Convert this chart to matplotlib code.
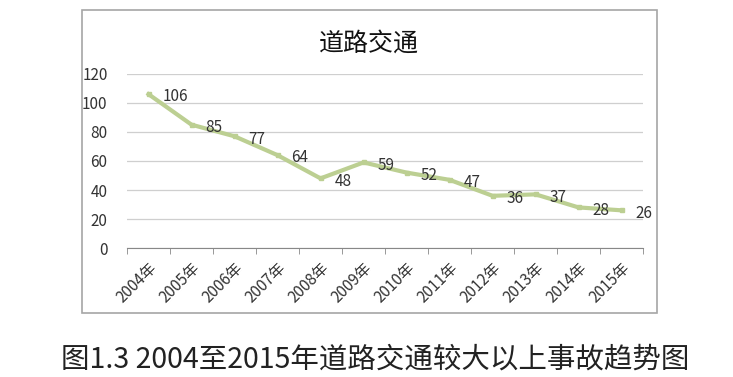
import matplotlib.pyplot as plt
from matplotlib.patches import Rectangle

plt.rcParams['font.family'] = ['Noto Sans CJK SC', 'DejaVu Sans']

# dati
anni = ['2004年', '2005年', '2006年', '2007年', '2008年', '2009年',
        '2010年', '2011年', '2012年', '2013年', '2014年', '2015年']
incidenti = [106, 85, 77, 64, 48, 59, 52, 47, 36, 37, 28, 26]
y_ticks = [0, 20, 40, 60, 80, 100, 120]

titolo = '道路交通'
didascalia = '图1.3 2004至2015年道路交通较大以上事故趋势图'

fig = plt.figure(figsize=(7.33, 3.77), dpi=100)

# cornice del grafico
fig.patches.append(Rectangle((0.112, 0.170), 0.784, 0.804, transform=fig.transFigure,
                             fill=False, edgecolor='#a6a6a6', linewidth=1.2))

ax = fig.add_axes([0.1733, 0.342, 0.704, 0.462])
x = list(range(len(anni)))
ax.plot(x, incidenti, color='#bccf92', linewidth=3, marker='s', markersize=3,
        solid_joinstyle='round')

for xi, v in zip(x, incidenti):
    ax.annotate(str(v), (xi, v), xytext=(10, -2), textcoords='offset points',
                ha='left', va='center', fontsize=11, color='#333333')

ax.set_xlim(-0.5, len(anni) - 0.5)
ax.set_ylim(0, 120)
ax.set_yticks(y_ticks)
ax.set_yticklabels([str(t) for t in y_ticks], fontsize=11, color='#333333')
ax.set_xticks(x)
ax.set_xticklabels(anni, rotation=45, ha='right', rotation_mode='anchor',
                   fontsize=11, color='#333333')
ax.set_xticks([i - 0.5 for i in range(len(anni) + 1)], minor=True)
ax.tick_params(axis='x', which='major', length=0, pad=8)
ax.tick_params(axis='x', which='minor', length=4, color='#888888')
ax.tick_params(axis='y', length=0, pad=14)
ax.grid(axis='y', color='#cfcfcf', linewidth=0.9)
ax.set_axisbelow(True)
for s in ['top', 'right', 'left']:
    ax.spines[s].set_visible(False)
ax.spines['bottom'].set_color('#888888')

fig.text(0.504, 0.885, titolo, ha='center', va='center', fontsize=18,
         color='#111111', fontweight='medium')
fig.text(0.512, 0.045, didascalia, ha='center', va='center', fontsize=20.5,
         color='#222222', fontweight='light')

fig.savefig('out.png', dpi=100)
